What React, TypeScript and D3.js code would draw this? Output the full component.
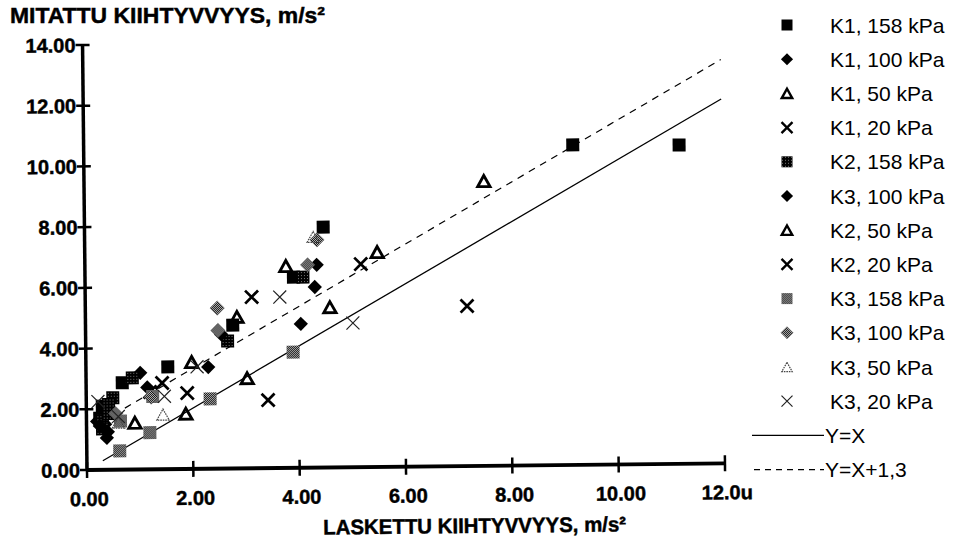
import React from 'react';
import * as d3 from 'd3';

type Pt = [number, number];

const xTicks = [0, 2, 4, 6, 8, 10, 12];
const xTickLabels = ['0.00', '2.00', '4.00', '6.00', '8.00', '10.00', '12.0u'];
const yTicks = [0, 2, 4, 6, 8, 10, 12, 14];
const yTickLabels = ['0.00', '2.00', '4.00', '6.00', '8.00', '10.00', '12.00', '14.00'];

const yTitle = 'MITATTU KIIHTYVVYYS, m/s²';
const xTitle = 'LASKETTU KIIHTYVVYYS, m/s²';

const K1_158: Pt[] = [[9.2, 10.54], [11.2, 10.5], [4.49, 7.92], [3.92, 6.28], [2.77, 4.72], [1.54, 3.37], [0.68, 2.86], [0.35, 1.95], [0.25, 1.7], [0.3, 2.1]];
const K1_100: Pt[] = [[4.36, 6.68], [4.32, 5.95], [2.3, 3.35], [1.02, 3.18], [0.28, 1.75], [0.35, 1.5], [0.2, 1.6], [0.38, 1.05]];
const K1_50: Pt[] = [[7.52, 9.38], [5.5, 7.08], [3.78, 6.65], [1.99, 3.52], [0.91, 1.54]];
const K1_20: Pt[] = [[7.18, 5.27], [5.19, 6.69], [3.13, 5.64], [1.43, 2.84]];
const K2_158: Pt[] = [[4.1, 6.28], [2.67, 4.2], [0.87, 3.02], [0.5, 2.37], [0.3, 1.6], [0.42, 2.15], [0.3, 1.35], [0.42, 1.85]];
const K3_100b: Pt[] = [[4.05, 4.74], [2.55, 4.42], [1.15, 2.7], [0.25, 1.45], [0.4, 1.25]];
const K2_50: Pt[] = [[4.6, 5.28], [3.03, 2.97], [1.87, 1.82], [2.85, 4.99]];
const K2_20: Pt[] = [[3.42, 2.24], [1.9, 2.5], [1.2, 2.55]];
const K3_158: Pt[] = [[3.9, 3.81], [2.33, 2.3], [1.19, 1.21], [0.62, 0.62], [0.64, 1.6], [1.25, 2.4]];
const K3_100g: Pt[] = [[2.48, 5.29], [2.49, 4.55], [4.19, 6.68], [4.37, 7.5], [1.22, 2.38], [0.55, 1.85]];
const K3_50: Pt[] = [[4.3, 7.6], [1.44, 1.8], [0.6, 1.55]];
const K3_20: Pt[] = [[5.03, 4.75], [3.66, 5.63], [2.09, 3.36], [1.47, 2.4], [0.6, 1.75], [0.22, 2.25]];

const lineRange = [0.3, 12];
const offsetLine = 1.3;

type Kind = 'sqBlack' | 'sqDark' | 'sqGray' | 'diamBlack' | 'diamGray' | 'triOpen' | 'triThin' | 'xThick' | 'xThin';

const series: { name: string; data: Pt[]; kind: Kind }[] = [
  { name: 'K1, 158 kPa', data: K1_158, kind: 'sqBlack' },
  { name: 'K1, 100 kPa', data: K1_100, kind: 'diamBlack' },
  { name: 'K1, 50 kPa', data: K1_50, kind: 'triOpen' },
  { name: 'K1, 20 kPa', data: K1_20, kind: 'xThick' },
  { name: 'K2, 158 kPa', data: K2_158, kind: 'sqDark' },
  { name: 'K3, 100 kPa', data: K3_100b, kind: 'diamBlack' },
  { name: 'K2, 50 kPa', data: K2_50, kind: 'triOpen' },
  { name: 'K2, 20 kPa', data: K2_20, kind: 'xThick' },
  { name: 'K3, 158 kPa', data: K3_158, kind: 'sqGray' },
  { name: 'K3, 100 kPa', data: K3_100g, kind: 'diamGray' },
  { name: 'K3, 50 kPa', data: K3_50, kind: 'triThin' },
  { name: 'K3, 20 kPa', data: K3_20, kind: 'xThin' },
];

const FONT = "'Liberation Sans', Arial, sans-serif";

function Marker({ kind, x, y, s }: { kind: Kind; x: number; y: number; s: number }) {
  const h = s / 2;
  const sq = `M${-h},${-h}h${s}v${s}h${-s}Z`;
  const dm = `M0,${-h * 1.1}L${h * 1.1},0L0,${h * 1.1}L${-h * 1.1},0Z`;
  const tw = s * 0.95, th = s * 0.85;
  const tri = `M0,${-th / 2}L${tw / 2},${th / 2}L${-tw / 2},${th / 2}Z`;
  const xx = `M${-h},${-h}L${h},${h}M${-h},${h}L${h},${-h}`;
  const t = `translate(${x},${y})`;
  switch (kind) {
    case 'sqBlack': return <path transform={t} d={sq} fill="#000" />;
    case 'sqDark': return <path transform={t} d={sq} fill="url(#stipDark)" />;
    case 'sqGray': return <path transform={t} d={sq} fill="url(#stipGray)" />;
    case 'diamBlack': return <path transform={t} d={dm} fill="#000" />;
    case 'diamGray': return <path transform={t} d={dm} fill="url(#stipGray)" stroke="#555" strokeWidth={0.6} />;
    case 'triOpen': return <path transform={t} d={tri} fill="none" stroke="#000" strokeWidth={s * 0.22} strokeLinejoin="miter" />;
    case 'triThin': return <path transform={t} d={tri} fill="none" stroke="#444" strokeWidth={1.2} strokeDasharray="1.6,0.9" />;
    case 'xThick': return <path transform={t} d={xx} fill="none" stroke="#000" strokeWidth={s * 0.21} />;
    case 'xThin': return <path transform={t} d={xx} fill="none" stroke="#222" strokeWidth={1.2} />;
  }
  return null;
}

export default function App() {
  const ox = 87, oy = 470;
  const x = d3.scaleLinear().domain([0, 12]).range([ox, ox + 638]);
  const y = d3.scaleLinear().domain([0, 14]).range([oy, oy - 425]);

  const line = d3.line<Pt>().x(d => x(d[0])).y(d => y(d[1]));
  const idLine: Pt[] = lineRange.map(v => [v, v] as Pt);
  const offLine: Pt[] = lineRange.map(v => [v, v + offsetLine] as Pt);

  const legendItems = series.map(s => s.name);
  const legY = (i: number) => 25 + 34.2 * i;
  const boldStroke = { stroke: '#000', strokeWidth: 0.45 };

  return (
    <svg width={955} height={543} style={{ position: 'absolute', left: 0, top: 0, background: '#fff' }} fontFamily={FONT}>
      <defs>
        <pattern id="stipGray" width={2} height={2} patternUnits="userSpaceOnUse">
          <rect width={2} height={2} fill="#c8c8c8" />
          <rect x={0} y={0} width={1} height={1} fill="#000" />
          <rect x={1} y={1} width={1} height={1} fill="#000" />
        </pattern>
        <pattern id="stipDark" width={3} height={3} patternUnits="userSpaceOnUse">
          <rect width={3} height={3} fill="#000" />
          <rect x={1} y={1} width={1} height={1} fill="#777" />
        </pattern>
      </defs>
      <rect width={955} height={543} fill="#fff" />

      <text x={10} y={23} fontSize={22} fontWeight="bold" textLength={315} lengthAdjust="spacingAndGlyphs" {...boldStroke}>{yTitle}</text>

      <g transform={`rotate(-0.6 ${ox} ${oy})`}>
        <path d={line(idLine) || ''} fill="none" stroke="#000" strokeWidth={1.3} />
        <path d={line(offLine) || ''} fill="none" stroke="#000" strokeWidth={1.2} strokeDasharray="7,6" />

        {series.map((s, si) => (
          <g key={si}>
            {s.data.map((d, i) => (
              <Marker key={i} kind={s.kind} x={x(d[0])} y={y(d[1])} s={13} />
            ))}
          </g>
        ))}

        <line x1={ox} y1={y(0)} x2={ox} y2={y(14)} stroke="#000" strokeWidth={3.5} />
        <line x1={ox} y1={oy} x2={x(12)} y2={oy} stroke="#000" strokeWidth={3.8} />
        {yTicks.map((t, i) => (
          <g key={'y' + i}>
            <line x1={ox - 7} x2={ox + 7} y1={y(t)} y2={y(t)} stroke="#000" strokeWidth={2.5} />
            <text x={ox - 7} y={y(t)} dy="0.36em" textAnchor="end" fontSize={20} fontWeight="bold" {...boldStroke}>{yTickLabels[i]}</text>
          </g>
        ))}
        {xTicks.map((t, i) => (
          <g key={'x' + i}>
            <line x1={x(t)} x2={x(t)} y1={oy - 8} y2={oy + 8} stroke="#000" strokeWidth={2.5} />
            <text x={x(t) + 2} y={oy + 36} textAnchor="middle" fontSize={20} fontWeight="bold" {...boldStroke}>{xTickLabels[i]}</text>
          </g>
        ))}
        <text x={474} y={537} textAnchor="middle" fontSize={21} fontWeight="bold" textLength={303} lengthAdjust="spacingAndGlyphs" {...boldStroke}>{xTitle}</text>
      </g>

      <g>
        {series.map((s, i) => (
          <g key={'l' + i}>
            <Marker kind={s.kind} x={787} y={legY(i)} s={11} />
            <text x={830} y={legY(i)} dy="0.36em" fontSize={21}>{legendItems[i]}</text>
          </g>
        ))}
        <line x1={752} x2={824} y1={legY(12)} y2={legY(12)} stroke="#000" strokeWidth={1.2} />
        <text x={825} y={legY(12)} dy="0.36em" fontSize={21}>Y=X</text>
        <line x1={754} x2={824} y1={legY(13)} y2={legY(13)} stroke="#000" strokeWidth={1.1} strokeDasharray="6,5" />
        <text x={825} y={legY(13)} dy="0.36em" fontSize={21}>Y=X+1,3</text>
      </g>
    </svg>
  );
}
